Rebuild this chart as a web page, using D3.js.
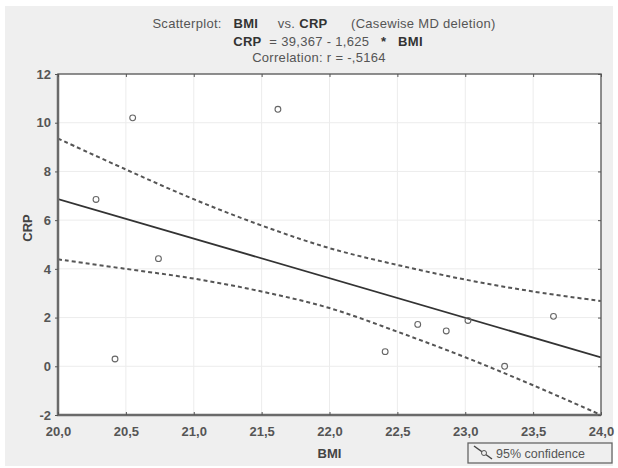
<!DOCTYPE html>
<html lang="en">
  <head>
    <meta charset="UTF-8" />
    <title>BMI vs CRP</title>
    <style>
      body { margin: 0; background: #fff; }
      text { font-family: 'Liberation Sans', Arial, sans-serif; white-space: pre; }
      .tick-label { fill: #555; font-size: 13px; font-weight: bold; }
      .band { fill: none; stroke: #555; stroke-width: 2; stroke-dasharray: 4 3; }
    </style>
  </head>
  <body>
    <script src="https://d3js.org/d3.v7.min.js"></script>
    <script>
      const bmi = [20.28, 20.42, 20.55, 20.74, 21.62, 22.41, 22.65, 22.86, 23.02, 23.29, 23.65];
      const crp = [6.85, 0.3, 10.2, 4.42, 10.55, 0.6, 1.72, 1.45, 1.88, 0.0, 2.05];

      // fitted line end points: CRP = 39,367 - 1,625 * BMI
      const fitX = [20, 24];
      const fitY = [6.867, 0.367];

      // 95% confidence band, read at the x ticks
      const bandX = [20, 20.5, 21, 21.5, 22, 22.5, 23, 23.5, 24];
      const bandUpper = [9.35, 8.08, 6.86, 5.78, 4.85, 4.16, 3.56, 3.07, 2.68];
      const bandLower = [4.39, 4.0, 3.6, 3.07, 2.39, 1.42, 0.37, -0.78, -2.0];

      const xTicks = [20, 20.5, 21, 21.5, 22, 22.5, 23, 23.5, 24];
      const yTicks = [-2, 0, 2, 4, 6, 8, 10, 12];

      const W = 618, H = 468;
      const plot = { left: 58, right: 601, top: 74, bottom: 415 };

      const svg = d3.select('body').append('svg').attr('width', W).attr('height', H);

      svg.append('rect').attr('x', 5).attr('y', 6).attr('width', 608).attr('height', 460).attr('fill', '#efefef');

      const x = d3.scaleLinear().domain([20, 24]).range([plot.left, plot.right]);
      const y = d3.scaleLinear().domain([-2, 12]).range([plot.bottom, plot.top]);
      const fmtX = (d) => d3.format('.1f')(d).replace('.', ',');
      const fmtY = (d) => String(d);

      svg.append('rect')
        .attr('x', plot.left).attr('y', plot.top)
        .attr('width', plot.right - plot.left).attr('height', plot.bottom - plot.top)
        .attr('fill', '#fff');

      svg.append('clipPath').attr('id', 'clip')
        .append('rect')
        .attr('x', plot.left).attr('y', plot.top)
        .attr('width', plot.right - plot.left).attr('height', plot.bottom - plot.top);

      // grid
      svg.append('g').selectAll('line').data(xTicks.slice(1, -1)).join('line')
        .attr('x1', (d) => x(d)).attr('x2', (d) => x(d))
        .attr('y1', plot.top).attr('y2', plot.bottom)
        .attr('stroke', '#ececec');
      svg.append('g').selectAll('line').data(yTicks.slice(1, -1)).join('line')
        .attr('x1', plot.left).attr('x2', plot.right)
        .attr('y1', (d) => y(d)).attr('y2', (d) => y(d))
        .attr('stroke', '#ececec');

      const g = svg.append('g').attr('clip-path', 'url(#clip)');

      const bandLine = d3.line().curve(d3.curveCatmullRom)
        .x((d) => x(d[0])).y((d) => y(d[1]));
      g.append('path').attr('class', 'band').attr('d', bandLine(d3.zip(bandX, bandUpper)));
      g.append('path').attr('class', 'band').attr('d', bandLine(d3.zip(bandX, bandLower)));

      g.append('path')
        .attr('d', d3.line().x((d) => x(d[0])).y((d) => y(d[1]))(d3.zip(fitX, fitY)))
        .attr('fill', 'none').attr('stroke', '#333').attr('stroke-width', 1.8);

      g.append('g').selectAll('circle').data(d3.zip(bmi, crp)).join('circle')
        .attr('cx', (d) => x(d[0])).attr('cy', (d) => y(d[1]))
        .attr('r', 2.9)
        .attr('fill', 'none').attr('stroke', '#666').attr('stroke-width', 1.1);

      // frame
      svg.append('rect')
        .attr('x', plot.left).attr('y', plot.top)
        .attr('width', plot.right - plot.left).attr('height', plot.bottom - plot.top)
        .attr('fill', 'none').attr('stroke', '#6a6a6a').attr('stroke-width', 1.5);
      svg.append('path')
        .attr('d', `M${plot.left},${plot.top}V${plot.bottom}H${plot.right}`)
        .attr('fill', 'none').attr('stroke', '#6a6a6a').attr('stroke-width', 2.5);

      // ticks (inward) and labels
      const axisB = d3.axisBottom(x).tickValues(xTicks).tickSize(-3).tickPadding(12).tickFormat(fmtX);
      svg.append('g').attr('transform', `translate(0,${plot.bottom})`).call(axisB)
        .call((a) => a.select('.domain').remove())
        .call((a) => a.selectAll('line').attr('stroke', '#555'))
        .call((a) => a.selectAll('text').attr('class', 'tick-label').attr('font-family', null).attr('font-size', null));

      const axisL = d3.axisLeft(y).tickValues(yTicks).tickSize(3).tickPadding(4).tickFormat(fmtY);
      svg.append('g').attr('transform', `translate(${plot.left},0)`).call(axisL)
        .call((a) => a.select('.domain').remove())
        .call((a) => a.selectAll('line').attr('stroke', '#555'))
        .call((a) => a.selectAll('text').attr('class', 'tick-label').attr('font-family', null).attr('font-size', null));

      svg.append('g').attr('transform', `translate(${plot.right},0)`)
        .call(d3.axisRight(y).tickValues(yTicks).tickSize(-3).tickFormat(''))
        .call((a) => a.select('.domain').remove())
        .call((a) => a.selectAll('line').attr('stroke', '#555'));
      svg.append('g').attr('transform', `translate(0,${plot.top})`)
        .call(d3.axisTop(x).tickValues(xTicks).tickSize(-3).tickFormat(''))
        .call((a) => a.select('.domain').remove())
        .call((a) => a.selectAll('line').attr('stroke', '#555'));

      // axis titles
      svg.append('text').attr('x', (plot.left + plot.right) / 2).attr('y', 458)
        .attr('text-anchor', 'middle').attr('font-size', 13).attr('font-weight', 'bold').attr('fill', '#444')
        .text('BMI');
      svg.append('text').attr('transform', 'translate(32,228) rotate(-90)')
        .attr('text-anchor', 'middle').attr('font-size', 13).attr('font-weight', 'bold').attr('fill', '#444')
        .text('CRP');

      // title
      const t1 = svg.append('text').attr('x', 324).attr('y', 28).attr('text-anchor', 'middle')
        .attr('font-size', 13).attr('letter-spacing', 0.3).attr('fill', '#555');
      t1.append('tspan').text('Scatterplot:   ');
      t1.append('tspan').attr('font-weight', 'bold').attr('fill', '#333').text('BMI');
      t1.append('tspan').text('     vs. ');
      t1.append('tspan').attr('font-weight', 'bold').attr('fill', '#333').text('CRP');
      t1.append('tspan').text('      (Casewise MD deletion)');

      const t2 = svg.append('text').attr('x', 328).attr('y', 46).attr('text-anchor', 'middle')
        .attr('font-size', 13).attr('letter-spacing', 0.3).attr('fill', '#555');
      t2.append('tspan').attr('font-weight', 'bold').attr('fill', '#333').text('CRP');
      t2.append('tspan').text('  = 39,367 - 1,625   ');
      t2.append('tspan').attr('font-weight', 'bold').attr('fill', '#333').text('*   BMI');

      svg.append('text').attr('x', 319).attr('y', 62).attr('text-anchor', 'middle')
        .attr('font-size', 13).attr('letter-spacing', 0.3).attr('fill', '#555').text('Correlation: r = -,5164');

      // legend
      const lg = svg.append('g');
      lg.append('rect').attr('x', 468).attr('y', 443).attr('width', 144).attr('height', 20)
        .attr('fill', '#efefef').attr('stroke', '#666').attr('stroke-width', 1.3);
      lg.append('line').attr('x1', 474).attr('y1', 446).attr('x2', 492).attr('y2', 459)
        .attr('stroke', '#444').attr('stroke-width', 1.5);
      lg.append('circle').attr('cx', 484).attr('cy', 453).attr('r', 2.5)
        .attr('fill', '#efefef').attr('stroke', '#555');
      lg.append('text').attr('x', 496).attr('y', 458).attr('font-size', 12.5).attr('fill', '#555')
        .text('95% confidence');
    </script>
  </body>
</html>
